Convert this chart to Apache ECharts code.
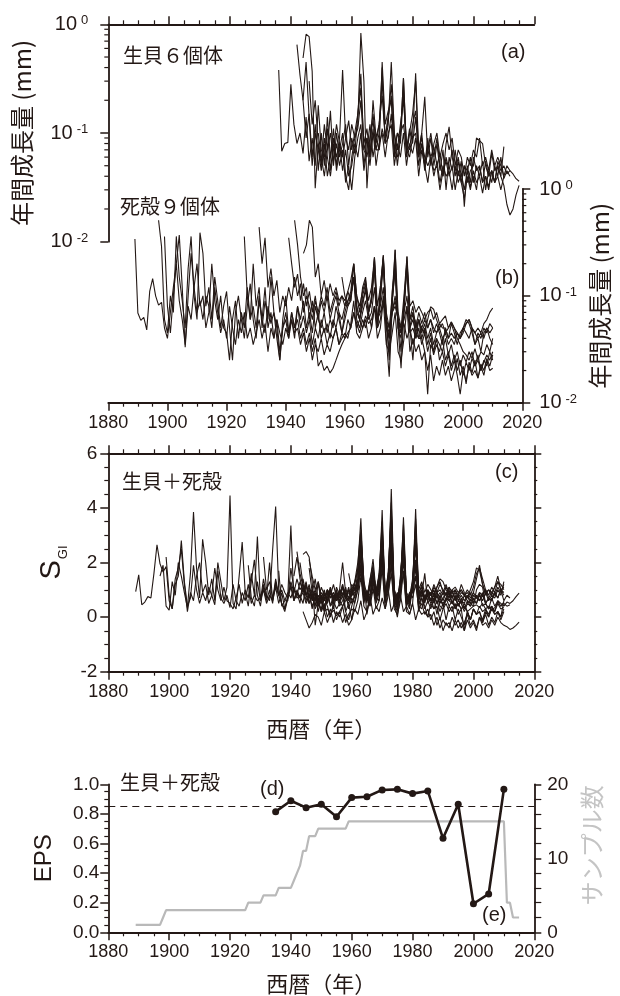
<!DOCTYPE html>
<html><head><meta charset="utf-8">
<script src="https://cdn.jsdelivr.net/npm/echarts@6/dist/echarts.min.js"></script>
<style>html,body{margin:0;padding:0;background:#fff}#c{width:620px;height:996px}</style>
</head><body><div id="c"></div>
<script>
// ---------- DATA ----------
const years = { min: 1880, max: 2020, step: 20 };
// Panel (a): annual growth (mm) of 6 live shells
const liveStart = [1936, 1942, 1944, 1944, 1946, 1949];
const live1 = [0.38,0.068,0.08,0.082,0.28,0.12,0.08,0.1,0.065,0.14, 0.055,0.09,0.05,0.18,0.07,0.06,0.11,0.045,0.08,0.06, 0.09,0.38,0.09,0.07,0.12,0.09,0.11,0.2,0.07,0.06, 0.09,0.15,0.08,0.12,0.22,0.09,0.14,0.28,0.1,0.07, 0.12,0.2,0.08,0.07,0.12,0.16,0.07,0.09,0.05,0.08, 0.06,0.075,0.05,0.065,0.04,0.06,0.045,0.07,0.04,0.055, 0.035,0.05,0.045,0.06,0.035,0.05,0.04,0.055,0.03,0.045, 0.035,0.05,0.04,0.06,0.038,0.045,0.04];
const live2 = [0.65,0.34,0.2,0.09,0.15,0.06,0.12,0.045,0.1,0.05, 0.14,0.06,0.09,0.045,0.07,0.1,0.04,0.03,0.06,0.09, 0.12,0.83,0.3,0.031,0.09,0.13,0.07,0.1,0.4,0.08, 0.12,0.45,0.1,0.05,0.09,0.32,0.07,0.1,0.09,0.355, 0.07,0.1,0.215,0.06,0.09,0.05,0.08,0.045,0.07,0.03, 0.06,0.045,0.07,0.04,0.055,0.021,0.05,0.035,0.06,0.045, 0.05,0.035,0.055,0.04,0.065,0.045,0.05,0.04,0.075];
const live3 = [0.49,0.81,0.77,0.37,0.031,0.08,0.055,0.12,0.07,0.16, 0.05,0.1,0.06,0.08,0.12,0.05,0.09,0.065,0.15,0.26, 0.08,0.11,0.06,0.2,0.09,0.12,0.3,0.09,0.14,0.22, 0.07,0.1,0.08,0.25,0.06,0.1,0.15,0.3,0.06,0.08, 0.045,0.07,0.1,0.06,0.09,0.05,0.04,0.08,0.114,0.06, 0.045,0.06,0.04,0.05,0.035,0.045,0.05,0.09,0.085,0.08, 0.05,0.04,0.045,0.035,0.055,0.045,0.05,0.042,0.045];
const live4 = [0.2,0.45,0.14,0.05,0.1,0.07,0.045,0.08,0.04,0.06, 0.11,0.05,0.08,0.045,0.07,0.04,0.05,0.08,0.06,0.1, 0.045,0.07,0.12,0.06,0.09,0.07,0.11,0.08,0.09,0.15, 0.07,0.06,0.1,0.12,0.07,0.06,0.09,0.1,0.05,0.08, 0.06,0.05,0.06,0.04,0.055,0.035,0.05,0.04,0.045,0.03, 0.05,0.035,0.042,0.03,0.045,0.032,0.04,0.03,0.05,0.035, 0.04,0.03,0.045,0.035,0.05,0.04,0.033,0.022,0.0176,0.02, 0.027,0.033];
const live5 = [0.3,0.12,0.2,0.08,0.05,0.09,0.06,0.04,0.07,0.12, 0.08,0.06,0.09,0.13,0.07,0.1,0.15,0.35,0.07,0.09, 0.05,0.1,0.07,0.07,0.45,0.12,0.16,0.2,0.06,0.1, 0.09,0.32,0.07,0.11,0.08,0.14,0.06,0.1,0.05,0.09, 0.05,0.08,0.1,0.06,0.08,0.1,0.07,0.09,0.05,0.07, 0.06,0.04,0.06,0.05,0.07,0.06,0.09,0.05,0.06,0.045, 0.07,0.05,0.06,0.05,0.04,0.05,0.045,0.042,0.038,0.036];
const live6 = [0.1,0.06,0.04,0.07,0.1,0.055,0.08,0.05,0.07,0.035, 0.05,0.03,0.06,0.09,0.12,0.05,0.09,0.06,0.11,0.05, 0.08,0.1,0.06,0.1,0.12,0.05,0.08,0.06,0.1,0.05, 0.08,0.065,0.09,0.04,0.07,0.05,0.035,0.06,0.045,0.05, 0.03,0.045,0.055,0.04,0.05,0.03,0.045,0.035,0.025,0.04, 0.03,0.045,0.035,0.04,0.028,0.04,0.032,0.045,0.035,0.04, 0.03,0.04];

// Panel (b): annual growth (mm) of 9 dead shells
const deadStart = [1889, 1897, 1899, 1926, 1931, 1941, 1943, 1946, 1959];
const dead1 = [0.34,0.069,0.059,0.063,0.048,0.11,0.145,0.1,0.082,0.087, 0.05,0.04,0.07,0.12,0.2,0.09,0.06,0.035,0.1,0.25, 0.12,0.07,0.09,0.06,0.1,0.08,0.05,0.12,0.07,0.045, 0.06,0.04,0.08,0.05,0.035,0.06,0.045,0.07,0.04,0.05, 0.035,0.045,0.06,0.04,0.055,0.03,0.05,0.04,0.06,0.045, 0.035,0.05,0.04,0.06,0.045,0.05,0.035,0.045,0.03,0.04, 0.025,0.035,0.03,0.04,0.028,0.035,0.03,0.04,0.05,0.035, 0.045,0.04,0.06,0.05,0.07,0.055,0.045,0.06,0.05,0.07, 0.05,0.08,0.05,0.06,0.1,0.055,0.045,0.07,0.09,0.06, 0.05,0.06,0.08,0.045,0.05,0.04,0.05,0.035,0.045,0.03, 0.04,0.028,0.035,0.03,0.04,0.025,0.03,0.022,0.028,0.02, 0.025,0.018,0.024,0.02,0.026,0.022,0.028,0.02,0.025,0.022, 0.03,0.025];
const dead2 = [0.51,0.29,0.06,0.045,0.1,0.07,0.36,0.15,0.09,0.05, 0.18,0.36,0.1,0.06,0.39,0.25,0.08,0.12,0.06,0.15, 0.09,0.05,0.08,0.11,0.05,0.025,0.07,0.1,0.06,0.04, 0.08,0.13,0.06,0.04,0.09,0.06,0.12,0.05,0.07,0.04, 0.06,0.03,0.05,0.07,0.045,0.06,0.04,0.08,0.05,0.065, 0.045,0.06,0.035,0.05,0.04,0.06,0.045,0.055,0.04,0.06, 0.05,0.07,0.045,0.06,0.08,0.09,0.15,0.06,0.05,0.07, 0.09,0.06,0.07,0.12,0.06,0.08,0.12,0.05,0.04,0.07, 0.1,0.06,0.045,0.07,0.1,0.05,0.06,0.045,0.06,0.04, 0.05,0.035,0.045,0.03,0.04,0.035,0.03,0.04,0.028,0.035, 0.025,0.03,0.022,0.028,0.024,0.03,0.026,0.032,0.025,0.03, 0.028,0.035,0.03,0.04];
const dead3 = [0.36,0.08,0.045,0.1,0.2,0.37,0.12,0.033,0.08,0.06, 0.12,0.2,0.08,0.1,0.05,0.07,0.2,0.09,0.06,0.1, 0.05,0.045,0.025,0.06,0.09,0.04,0.07,0.05,0.12,0.06, 0.08,0.05,0.1,0.06,0.045,0.08,0.055,0.07,0.04,0.025, 0.05,0.06,0.04,0.07,0.05,0.06,0.04,0.05,0.035,0.045, 0.03,0.04,0.022,0.025,0.02,0.022,0.019,0.021,0.025,0.03, 0.035,0.04,0.045,0.05,0.07,0.05,0.06,0.05,0.065,0.055, 0.06,0.08,0.06,0.07,0.09,0.06,0.05,0.07,0.08,0.06, 0.045,0.055,0.04,0.05,0.035,0.045,0.04,0.05,0.045,0.06, 0.079,0.075,0.06,0.05,0.055,0.045,0.05,0.057,0.05,0.04, 0.035,0.03,0.028,0.025,0.03,0.022,0.025,0.02,0.024,0.028, 0.025,0.03];
const dead4 = [0.36,0.1,0.06,0.2,0.08,0.12,0.05,0.09,0.06,0.15, 0.07,0.05,0.025,0.06,0.1,0.045,0.07,0.05,0.08,0.06, 0.09,0.05,0.07,0.045,0.08,0.06,0.05,0.07,0.045,0.06, 0.05,0.08,0.06,0.045,0.07,0.09,0.1,0.15,0.07,0.06, 0.08,0.12,0.07,0.09,0.23,0.05,0.1,0.24,0.04,0.0175, 0.08,0.27,0.05,0.021,0.07,0.233,0.05,0.025,0.06,0.04, 0.04,0.03,0.012,0.035,0.03,0.04,0.025,0.03,0.022,0.028, 0.02,0.025,0.018,0.012,0.02,0.016,0.022,0.018,0.02,0.017, 0.022,0.018,0.025,0.02,0.021];
const dead5 = [0.44,0.2,0.35,0.12,0.18,0.1,0.14,0.07,0.1,0.08, 0.12,0.09,0.15,0.1,0.13,0.07,0.1,0.08,0.06,0.09, 0.07,0.1,0.08,0.12,0.07,0.09,0.11,0.08,0.1,0.09, 0.11,0.09,0.2,0.1,0.07,0.12,0.15,0.07,0.1,0.22, 0.05,0.12,0.23,0.06,0.03,0.11,0.2,0.06,0.03,0.09, 0.21,0.06,0.08,0.05,0.07,0.055,0.07,0.05,0.06,0.045, 0.055,0.045,0.035,0.05,0.04,0.055,0.045,0.035,0.045,0.05, 0.06,0.055,0.045,0.035,0.04,0.03,0.045,0.05,0.04,0.035];
const dead6 = [0.35,0.2,0.12,0.16,0.09,0.13,0.08,0.11,0.07,0.1, 0.06,0.09,0.07,0.1,0.06,0.08,0.1,0.07,0.06,0.08, 0.09,0.11,0.2,0.08,0.06,0.1,0.13,0.07,0.09,0.2, 0.05,0.1,0.22,0.06,0.025,0.09,0.18,0.05,0.04,0.08, 0.2,0.05,0.07,0.04,0.06,0.045,0.055,0.04,0.05,0.035, 0.045,0.05,0.04,0.045,0.035,0.04,0.035,0.045,0.04,0.05, 0.045,0.04,0.05,0.035,0.045,0.04,0.05,0.045,0.055,0.05];
const dead7 = [0.51,0.3,0.15,0.1,0.12,0.06,0.09,0.05,0.07,0.04, 0.05,0.035,0.045,0.04,0.05,0.035,0.04,0.045,0.04,0.055, 0.09,0.045,0.04,0.05,0.06,0.04,0.05,0.08,0.04,0.05, 0.09,0.035,0.03,0.045,0.07,0.03,0.025,0.04,0.08,0.03, 0.04,0.03,0.035,0.025,0.03,0.02,0.028,0.016,0.022,0.018, 0.025,0.018,0.022,0.016,0.02,0.026,0.018,0.022,0.015,0.024, 0.019,0.025,0.017,0.023,0.02,0.026,0.022,0.028];
const dead8 = [0.25,0.3,0.51,0.44,0.15,0.2,0.1,0.14,0.09,0.13, 0.1,0.12,0.09,0.1,0.08,0.11,0.14,0.2,0.1,0.08, 0.11,0.14,0.09,0.12,0.23,0.08,0.12,0.24,0.07,0.05, 0.1,0.27,0.07,0.05,0.1,0.233,0.08,0.09,0.07,0.08, 0.07,0.06,0.07,0.075,0.06,0.07,0.055,0.06,0.065,0.05, 0.057,0.05,0.045,0.04,0.045,0.055,0.06,0.05,0.045,0.05, 0.045,0.055,0.06,0.07,0.077];
const dead9 = [0.15,0.1,0.08,0.1,0.15,0.08,0.06,0.09,0.11,0.07, 0.09,0.18,0.06,0.09,0.2,0.06,0.04,0.09,0.17,0.05, 0.045,0.08,0.18,0.06,0.07,0.05,0.06,0.05,0.06,0.05, 0.06,0.05,0.045,0.055,0.05,0.05,0.04,0.045,0.04,0.045, 0.04,0.05,0.055,0.06,0.05,0.045,0.04,0.045,0.04,0.05, 0.045,0.05];

// Panel (c): standardized growth index S_GI (same shells, same start years)
const sgiLive1 = [1.7,0.4,0.6,0.6,1.8,1.0,0.7,0.8,0.5,1.2, 0.5,0.8,0.4,1.3,0.7,0.6,1.0,0.4,0.8,0.6, 1.0,2.0,0.9,0.7,1.2,1.0,1.3,1.6,0.7,0.9, 0.6,1.3,0.8,1.5,2.0,0.9,1.3,2.4,1.0,0.7, 1.2,2.2,0.9,0.7,1.4,1.9,0.8,0.9,0.6,0.9, 0.8,1.0,0.7,0.9,0.6,0.9,0.7,1.0,0.6,0.8, 0.5,0.8,0.7,0.9,0.5,0.8,0.6,0.9,0.5,0.7, 0.6,0.9,0.7,1.0,0.6,0.8,0.7];
const sgiLive2 = [2.4,1.6,1.1,0.6,0.9,0.3,0.8,0.2,0.7,0.3, 0.9,0.4,0.6,0.3,0.5,1.2,0.2,-0.1,0.4,0.8, 1.4,3.0,1.3,0.1,0.8,1.6,0.6,1.2,2.8,0.7, 1.3,3.5,0.8,0.4,1.1,2.7,0.5,0.9,1.0,2.9, 0.4,0.8,1.6,0.5,0.7,0.3,0.6,0.2,0.5,-0.1, 0.4,0.2,0.5,0.1,0.3,-0.5,0.2,-0.1,0.3,0.1, 0.2,-0.1,0.3,0.0,0.4,0.1,0.2,0.0,0.6];
const sgiLive3 = [2.3,2.4,2.2,1.3,-0.3,0.5,0.3,0.9,0.5,1.1, 0.3,0.8,0.4,0.6,0.9,0.3,0.7,0.5,1.0,2.0, 0.6,0.9,0.4,1.5,0.7,1.0,2.6,0.8,1.2,1.9, 0.6,0.9,0.7,2.4,0.5,0.8,1.2,2.9,0.5,0.7, 0.3,0.6,0.9,0.5,0.8,0.4,0.3,0.7,1.0,0.5, 0.4,0.5,0.3,0.4,0.2,0.3,0.4,1.0,1.2,1.1, 0.5,0.3,0.4,0.2,0.6,0.4,0.5,0.4,0.45];
const sgiLive4 = [0.2,-0.1,-0.4,-0.2,0.1,0.0,-0.3,0.2,-0.2,0.1, 0.4,-0.1,0.2,-0.2,0.1,-0.3,-0.1,0.3,0.1,0.6, -0.1,0.2,0.8,0.1,0.4,0.2,0.7,0.3,1.0,0.2, 0.5,0.0,0.8,0.2,0.4,0.1,0.5,-0.1,0.3,0.1, 0.2,0.0,0.1,-0.3,0.0,-0.4,-0.1,-0.3,-0.2,-0.5, -0.1,-0.4,-0.2,-0.5,-0.1,-0.4,-0.2,-0.5,0.0,-0.3, -0.2,-0.4,-0.1,-0.3,0.0,-0.2,-0.3,-0.35,-0.45,-0.4, -0.3,-0.18];
const sgiLive5 = [1.8,0.9,1.4,0.6,0.2,0.7,0.4,0.0,0.5,1.0, 0.6,0.4,0.7,1.1,0.5,0.8,1.7,2.4,0.6,0.9, 0.4,1.0,0.7,0.6,3.0,1.0,0.9,1.6,0.4,0.8, 0.9,2.2,0.5,0.9,0.7,1.2,0.4,0.3,0.8,0.6, 0.3,0.7,0.9,0.5,0.7,0.9,0.6,0.8,0.3,0.6, 0.5,0.2,0.5,0.4,0.6,0.5,0.9,0.4,0.5,0.3, 0.7,0.4,0.6,0.5,0.4,0.55,0.5,0.6,0.75,0.88];
const sgiLive6 = [1.2,0.6,0.2,0.7,1.1,0.5,0.9,0.5,0.8,0.2, 0.5,-0.1,0.6,1.0,1.8,0.5,1.0,0.6,1.3,0.5, 0.9,1.9,0.6,1.3,2.2,0.4,0.8,1.0,1.6,0.4, 0.8,0.9,1.5,0.2,0.7,0.4,0.0,0.5,0.3,0.4, -0.1,0.3,0.5,0.2,0.4,-0.1,0.3,0.0,-0.3,0.2, -0.1,0.3,0.1,0.2,-0.2,0.2,0.0,0.3,0.1,0.2, -0.1,0.2];
const sgiDead1 = [0.93,1.55,0.45,0.55,0.75,0.7,1.6,2.65,1.95,1.65, 1.85,0.6,0.3,1.2,1.5,2.8,1.3,0.4,0.7,1.9, 1.0,0.5,0.9,0.6,1.1,0.8,0.45,1.7,0.7,0.5, 0.8,0.35,1.2,0.6,0.4,0.9,0.6,1.2,0.5,0.8, 0.6,0.7,1.1,0.6,1.0,0.5,1.3,0.8,1.2,0.9, 0.7,1.3,0.9,1.4,1.0,1.2,0.8,1.0,0.6,0.9, 0.5,0.8,0.6,1.0,0.7,0.9,0.6,0.8,1.1,0.7, 0.9,0.8,1.1,1.0,1.9,0.9,0.6,1.3,1.0,0.7, 0.9,2.2,0.8,1.1,2.6,0.9,0.6,1.2,2.0,0.8, 0.7,1.1,2.1,0.8,1.0,0.7,0.9,0.8,0.6,0.9, 0.7,0.9,0.8,1.1,0.7,0.9,0.6,0.8,0.6,0.8, 0.5,0.8,0.7,0.9,0.8,1.0,0.7,0.9,0.8,1.1, 0.9,1.2];
const sgiDead2 = [1.5,1.9,0.4,0.25,1.3,0.8,2.0,1.5,0.9,0.35, 1.6,3.85,1.8,0.7,2.85,2.0,0.8,1.4,0.6,2.0, 1.3,0.6,1.1,4.45,0.5,0.3,1.5,2.75,0.9,0.4, 1.3,2.1,0.8,0.4,1.2,0.7,2.0,0.6,1.1,0.5, 0.9,0.3,0.7,1.1,0.6,0.9,0.5,1.4,0.8,1.1, 0.6,0.9,0.4,0.8,0.6,1.0,0.7,0.9,0.6,1.0, 0.8,1.1,0.6,0.9,1.2,1.8,3.62,1.0,0.5,1.3, 2.13,0.9,1.4,3.0,0.8,1.5,3.3,0.6,0.5,1.3, 3.0,0.8,0.6,1.2,2.8,0.7,1.0,0.6,0.9,0.6, 0.9,0.5,0.8,0.4,0.7,0.6,0.5,0.8,0.4,0.7, 0.3,0.6,0.4,0.7,0.5,0.8,0.6,0.9,0.6,0.8, 0.7,1.0,0.8,1.3];
const sgiDead3 = [2.2,0.8,0.3,1.4,1.8,2.5,1.2,0.2,0.9,0.6, 1.5,2.0,0.9,1.2,0.5,0.8,1.8,1.0,0.6,1.1, 0.6,0.5,0.3,0.7,1.2,0.5,1.0,0.7,1.6,0.8, 2.95,0.6,1.4,0.8,0.6,2.45,4.05,1.0,0.5,0.3, 0.8,3.35,0.6,1.0,0.7,0.9,0.5,0.8,0.4,0.7, 0.4,0.6,0.2,0.3,0.1,0.25,0.05,0.2,0.4,0.6, 0.7,0.8,0.9,1.0,2.5,0.8,0.9,0.8,1.7,0.9, 1.2,3.92,0.7,1.2,4.69,0.8,0.3,1.0,3.66,0.8, 0.5,1.0,3.96,0.8,0.9,0.6,0.8,0.9,0.8,1.1, 1.4,1.3,1.0,0.8,0.9,0.7,0.8,1.0,0.8,0.6, 0.5,0.4,0.45,0.35,0.5,0.3,0.4,0.25,0.35,0.5, 0.4,0.55];
const sgiDead4 = [1.9,0.7,0.4,1.3,0.6,1.0,0.5,0.8,0.6,1.4, 0.8,0.5,0.2,0.7,1.2,0.6,0.9,0.7,1.1,0.8, 1.2,0.7,1.0,0.6,1.1,0.8,0.7,1.0,0.6,0.9, 0.7,1.1,0.8,0.6,1.0,1.3,2.0,3.2,1.3,0.8, 1.1,1.8,0.9,1.6,3.5,0.7,1.4,4.2,0.5,0.2, 1.3,3.4,0.6,0.3,1.1,3.6,0.6,0.9,0.6,0.8, 0.5,0.7,0.1,0.6,0.5,0.7,0.4,0.6,0.3,0.5, 0.3,0.5,0.2,-0.1,0.3,0.1,0.4,0.2,0.3,0.1, 0.4,0.2,0.5,0.3,0.35];
const sgiDead5 = [2.2,1.0,1.3,0.7,1.2,0.8,1.0,0.6,0.9,0.7, 1.1,0.8,1.3,0.9,1.2,0.7,1.0,0.8,0.6,0.9, 0.7,1.0,0.8,1.2,0.7,0.9,1.1,0.8,1.0,0.9, 1.2,1.0,2.8,1.1,0.7,1.4,1.9,0.8,1.3,3.1, 0.6,1.6,3.8,0.7,0.4,1.5,2.9,0.7,0.4,1.2, 3.2,0.8,1.2,0.7,1.0,0.8,1.2,0.9,1.0,0.8, 1.1,0.9,0.7,1.0,0.8,1.2,0.9,0.7,1.0,1.3, 1.8,1.7,1.2,0.9,1.0,0.8,1.1,1.5,1.0,0.9];
const sgiDead6 = [1.5,2.2,1.4,0.9,1.3,0.7,1.0,0.6,0.8,0.5, 0.9,0.6,1.0,0.7,0.8,0.6,0.9,0.7,0.5,0.8, 1.0,1.4,2.6,0.9,0.6,1.2,1.6,0.7,1.1,2.4, 0.5,1.2,2.9,0.6,0.3,1.0,2.5,0.5,0.6,1.0, 2.6,0.6,1.0,0.5,0.9,0.6,0.8,0.5,0.7,0.4, 0.6,0.8,0.5,0.7,0.4,0.6,0.5,0.8,0.6,0.9, 0.7,0.6,0.8,0.5,0.7,0.6,0.9,0.7,1.0,0.8];
const sgiDead7 = [2.0,1.2,0.8,0.5,0.9,0.3,0.6,0.2,0.5,0.0, 0.3,-0.2,0.2,0.0,0.4,-0.2,0.1,0.3,0.2,0.6, 1.5,0.4,0.2,0.7,1.1,0.3,0.6,1.8,0.3,0.8, 2.0,0.3,0.1,0.6,1.7,0.2,0.1,0.5,1.9,0.3, 0.5,0.1,0.3,-0.1,0.2,-0.3,0.0,-0.5,-0.2,-0.4, 0.0,-0.3,-0.1,-0.4,-0.2,0.1,-0.3,-0.1,-0.4,0.0, -0.2,0.1,-0.3,0.0,-0.2,0.2,0.0,0.3];
const sgiDead8 = [2.1,1.5,1.0,1.3,0.7,1.0,0.5,0.9,0.6,1.1, 0.8,1.2,0.7,1.0,0.8,1.3,1.7,3.0,1.1,0.7, 1.2,1.7,1.0,1.5,3.3,0.9,1.6,3.9,0.9,0.6, 1.4,3.1,0.8,0.5,1.3,3.4,1.0,1.3,0.9,1.2, 1.0,0.8,1.1,1.3,0.9,1.2,0.8,1.0,1.1,0.9, 1.0,0.8,0.9,0.7,0.9,1.4,1.9,1.2,0.8,1.0, 0.9,1.1,1.3,1.2,1.0];
const sgiDead9 = [1.6,1.0,0.7,1.2,2.2,0.9,0.6,1.1,1.5,0.8, 1.2,2.7,0.7,1.1,3.1,0.8,0.5,1.2,2.6,0.7, 0.6,1.1,2.9,0.9,1.1,0.7,1.0,0.8,1.1,0.9, 1.2,1.0,0.8,1.1,0.9,1.0,0.7,0.9,0.8,1.0, 0.8,1.1,1.6,1.8,1.4,1.0,0.8,1.1,0.9,1.3, 1.0,1.1];

// Panel (d): EPS every 5 years; panel (e): sample count per year
const epsYears = [1935,1940,1945,1950,1955,1960,1965,1970,1975,1980,1985,1990,1995,2000,2005,2010];
const epsValues = [0.815,0.889,0.842,0.865,0.781,0.91,0.916,0.962,0.966,0.937,0.955,0.635,0.865,0.193,0.259,0.966];
const epsThreshold = 0.85;
const countStart = 1889;
const sampleCount = [1,1,1,1,1,1,1,1,1,2, 3,3,3,3,3,3,3,3,3,3, 3,3,3,3,3,3,3,3,3,3, 3,3,3,3,3,3,3,4,4,4, 4,4,5,5,5,5,5,6,6,6, 6,6,7,8,9,11,11,13,13,13, 14,14,14,14,14,14,14,14,14,14, 15,15,15,15,15,15,15,15,15,15, 15,15,15,15,15,15,15,15,15,15, 15,15,15,15,15,15,15,15,15,15, 15,15,15,15,15,15,15,15,15,15, 15,15,15,15,15,15,15,15,15,15, 15,15,4,4,2,2,2];
// axis tick values
const logMinor = [0.02,0.03,0.04,0.05,0.06,0.07,0.08,0.09,0.2,0.3,0.4,0.5,0.6,0.7,0.8,0.9];

// ---------- CHART ----------
const INK = '#231815';
const GRAY = '#b9b9b9';
const FONT = '"Liberation Sans", Arial, "Noto Sans CJK JP", sans-serif';
const JFONT = '"Noto Sans CJK JP", "Liberation Sans", sans-serif';
const pairs = (s, v) => v.map((y, i) => [s + i, y]);

const G = [
  { left: 108.3, top: 24.3, width: 426, height: 217.4 },
  { left: 108.3, top: 189, width: 426, height: 213.7 },
  { left: 108.3, top: 453.3, width: 426, height: 218.4 },
  { left: 108.3, top: 784.3, width: 426, height: 148 }
];

const axLine = { show: true, onZero: false, lineStyle: { color: INK, width: 1.8 } };
const tick = (len) => ({ show: true, length: len, lineStyle: { color: INK, width: 1.5 } });
const mtick = (n, len) => ({ show: true, splitNumber: n, length: len, lineStyle: { color: INK, width: 1.2 } });
const lbl = (m, extra) => Object.assign({ show: true, color: INK, fontSize: 18, fontFamily: FONT, margin: m }, extra || {});

function xAx(grid, pos, showLabel, name, nameGap) {
  return {
    type: 'value', gridIndex: grid, position: pos, min: years.min, max: years.max, interval: years.step,
    axisLine: axLine, axisTick: tick(8), minorTick: mtick(4, 4), splitLine: { show: false }, minorSplitLine: { show: false },
    axisLabel: showLabel ? lbl(11, { formatter: (v) => String(v) }) : { show: false },
    name: name || '', nameLocation: 'middle', nameGap: nameGap || 0,
    nameTextStyle: { fontSize: 22, fontFamily: JFONT, color: INK }
  };
}
const logFmt = (v) => { const e = Math.round(Math.log10(v)); return '{b|10}{e|' + e + '}'; };
const logRich = { b: { fontSize: 20, fontFamily: FONT, color: INK }, e: { fontSize: 13, fontFamily: FONT, color: INK, verticalAlign: 'top', padding: [0, 0, 0, 4] } };

const option = {
  animation: false,
  backgroundColor: '#fff',
  grid: G,
  xAxis: [
    xAx(0, 'top', false),
    xAx(1, 'bottom', true),
    xAx(2, 'top', false),
    xAx(2, 'bottom', true, '西暦（年）', 46),
    xAx(3, 'bottom', true, '西暦（年）', 40)
  ],
  yAxis: [
    { type: 'log', logBase: 10, gridIndex: 0, position: 'left', min: 0.01, max: 1,
      axisLine: axLine, axisTick: tick(8), splitLine: { show: false },
      axisLabel: lbl(20, { formatter: logFmt, rich: logRich }),
      name: '年間成長量 (mm)', nameLocation: 'middle', nameRotate: 90, nameGap: 74,
      nameTextStyle: { fontSize: 24, fontFamily: JFONT, color: INK } },
    { type: 'log', logBase: 10, gridIndex: 1, position: 'right', min: 0.01, max: 1,
      axisLine: axLine, axisTick: tick(8), splitLine: { show: false },
      axisLabel: lbl(17, { formatter: logFmt, rich: logRich }),
      name: '年間成長量 (mm)', nameLocation: 'middle', nameRotate: 90, nameGap: 61,
      nameTextStyle: { fontSize: 24, fontFamily: JFONT, color: INK } },
    { type: 'value', gridIndex: 2, position: 'left', min: -2, max: 6, interval: 2,
      axisLine: axLine, axisTick: tick(8), minorTick: mtick(4, 4), splitLine: { show: false }, minorSplitLine: { show: false },
      axisLabel: lbl(11, { fontSize: 19 }),
      name: '{s|S}{g|GI}', nameLocation: 'middle', nameRotate: 90, nameGap: 36,
      nameTextStyle: { rich: { s: { fontSize: 29, fontFamily: FONT, color: INK, verticalAlign: 'bottom' }, g: { fontSize: 13, fontFamily: FONT, color: INK, verticalAlign: 'bottom', padding: [0, 0, -3, 1] } } } },
    { type: 'value', gridIndex: 2, position: 'right', min: -2, max: 6, interval: 2,
      axisLine: axLine, axisTick: tick(7), minorTick: mtick(4, 3), splitLine: { show: false }, minorSplitLine: { show: false },
      axisLabel: { show: false } },
    { type: 'value', gridIndex: 3, position: 'left', min: 0, max: 1, interval: 0.2,
      axisLine: axLine, axisTick: tick(8), minorTick: mtick(4, 4), splitLine: { show: false }, minorSplitLine: { show: false },
      axisLabel: lbl(9, { fontSize: 19, formatter: (v) => v.toFixed(1) }),
      name: 'EPS', nameLocation: 'middle', nameRotate: 90, nameGap: 52,
      nameTextStyle: { fontSize: 24, fontFamily: FONT, color: INK } },
    { type: 'value', gridIndex: 3, position: 'right', min: 0, max: 20, interval: 10,
      axisLine: axLine, axisTick: tick(7), minorTick: mtick(5, 7), splitLine: { show: false }, minorSplitLine: { show: false },
      axisLabel: lbl(13, { fontSize: 19 }),
      name: 'サンプル数', nameLocation: 'middle', nameRotate: 90, nameGap: 46,
      nameTextStyle: { fontSize: 24, fontFamily: JFONT, color: '#c4c4c4', padding: [0, 0, 0, 26] } }
  ],
  series: []
};

const lineS = (xi, yi, data, w) => ({ type: 'line', xAxisIndex: xi, yAxisIndex: yi, data: data, showSymbol: false, symbol: 'none', silent: true,
  lineStyle: { color: INK, width: w || 1.1 }, z: 3 });

[live1, live2, live3, live4, live5, live6].forEach((v, i) => option.series.push(lineS(0, 0, pairs(liveStart[i], v))));
[dead1, dead2, dead3, dead4, dead5, dead6, dead7, dead8, dead9].forEach((v, i) => option.series.push(lineS(1, 1, pairs(deadStart[i], v))));
[sgiDead1, sgiDead2, sgiDead3, sgiDead4, sgiDead5, sgiDead6, sgiDead7, sgiDead8, sgiDead9].forEach((v, i) => option.series.push(lineS(3, 2, pairs(deadStart[i], v))));
[sgiLive1, sgiLive2, sgiLive3, sgiLive4, sgiLive5, sgiLive6].forEach((v, i) => option.series.push(lineS(3, 2, pairs(liveStart[i], v))));

// log-axis minor ticks (2..9 per decade) via the axis scale
const minorTickSeries = (xi, yi, xVal, dir) => ({
  type: 'custom', xAxisIndex: xi, yAxisIndex: yi, silent: true, clip: false, z: 5,
  data: logMinor.map((v) => [xVal, v]),
  renderItem: (params, api) => {
    const p = api.coord([api.value(0), api.value(1)]);
    return { type: 'line', shape: { x1: p[0], y1: p[1], x2: p[0] + dir * 4, y2: p[1] }, style: { stroke: INK, lineWidth: 1.2 } };
  }
});
option.series.push(minorTickSeries(0, 0, years.min, -1));
option.series.push(minorTickSeries(1, 1, years.max, 1));

// sample count (gray) and EPS
option.series.push({ type: 'line', xAxisIndex: 4, yAxisIndex: 5, data: pairs(countStart, sampleCount), symbol: 'none', silent: true,
  lineStyle: { color: GRAY, width: 2.2 }, z: 2 });
option.series.push({ type: 'line', xAxisIndex: 4, yAxisIndex: 4, data: epsYears.map((y, i) => [y, epsValues[i]]), symbol: 'circle', symbolSize: 7, silent: true,
  itemStyle: { color: INK }, lineStyle: { color: INK, width: 2.6 }, z: 4,
  markLine: { silent: true, symbol: 'none', label: { show: false }, lineStyle: { color: INK, width: 1.2, type: [7, 5] }, data: [{ yAxis: epsThreshold }] } });

const txt = (x, y, t, size, fam) => ({ type: 'text', x: x, y: y, silent: true, style: { text: t, fill: INK, font: size + 'px ' + fam, verticalAlign: 'middle' } });
option.graphic = [
  txt(123, 55, '生貝６個体', 20, JFONT),
  txt(120, 206, '死殻９個体', 20, JFONT),
  txt(501, 52, '(a)', 20, FONT),
  txt(495, 278, '(b)', 20, FONT),
  txt(495, 472, '(c)', 20, FONT),
  txt(122, 481, '生貝＋死殻', 20, JFONT),
  txt(120, 782, '生貝＋死殻', 20, JFONT),
  txt(260, 789, '(d)', 20, FONT),
  txt(482, 915, '(e)', 20, FONT)
];

const chart = echarts.init(document.getElementById('c'), null, { renderer: 'canvas' });
chart.setOption(option);
</script>
</body></html>
